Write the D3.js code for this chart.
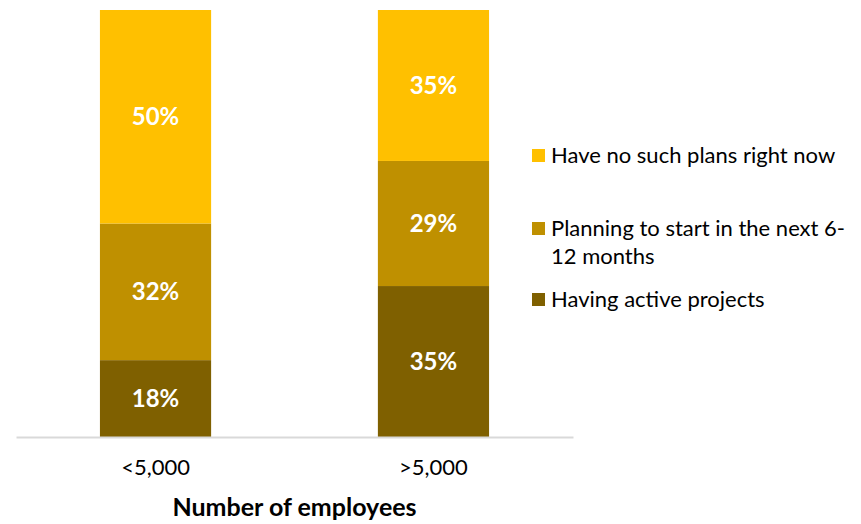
<!DOCTYPE html>
<html>
<head>
<meta charset="utf-8">
<script src="https://cdn.jsdelivr.net/npm/d3@7"></script>
<style>
  html, body { margin: 0; padding: 0; background: #fff; }
  svg { display: block; font-family: Lato, "Open Sans", sans-serif; }
</style>
</head>
<body>
<svg id="chart" width="861" height="524"></svg>
<script>
// Company size groups and the share of each response (percent)
const categories = ["<5,000", ">5,000"];
const seriesNames = ["Having active projects", "Planning to start in the next 6-12 months", "Have no such plans right now"];
const activeProjects = [18, 35];
const planningNext = [32, 29];
const noPlans = [50, 35];
const legendLines = [
  ["Have no such plans right now"],
  ["Planning to start in the next 6-", "12 months"],
  ["Having active projects"]
];
const colors = ["#7F6000", "#BF9000", "#FFC000"];
const axisTitle = "Number of employees";

const rows = categories.map((c, i) => ({
  category: c,
  [seriesNames[0]]: activeProjects[i],
  [seriesNames[1]]: planningNext[i],
  [seriesNames[2]]: noPlans[i]
}));

const svg = d3.select("#chart");
const plot = { left: 16, right: 573, top: 10, bottom: 437 };

const x = d3.scaleBand()
  .domain(categories)
  .range([plot.left, plot.right])
  .paddingInner(0.6)
  .paddingOuter(0.302);

const y = d3.scaleLinear().domain([0, 1]).range([plot.bottom, plot.top]);

// 100% stacked layout
const stack = d3.stack().keys(seriesNames).offset(d3.stackOffsetExpand);
const layers = stack(rows);

const g = svg.append("g");
layers.forEach((layer, li) => {
  const lg = g.append("g");
  lg.selectAll("rect")
    .data(layer)
    .join("rect")
    .attr("x", d => x(d.data.category))
    .attr("width", x.bandwidth())
    .attr("y", d => y(d[1]))
    .attr("height", d => y(d[0]) - y(d[1]))
    .attr("fill", colors[li]);
  lg.selectAll("text")
    .data(layer)
    .join("text")
    .attr("x", d => x(d.data.category) + x.bandwidth() / 2)
    .attr("y", d => (y(d[0]) + y(d[1])) / 2)
    .attr("dy", "0.36em")
    .attr("text-anchor", "middle")
    .attr("fill", "#fff")
    .attr("font-weight", "bold")
    .attr("font-size", 24)
    .text(d => d.data[layer.key] + "%");
});

// baseline axis
const xAxis = d3.axisBottom(x).tickSize(0).tickPadding(22);
const ax = svg.append("g").attr("transform", `translate(0,${plot.bottom})`).call(xAxis);
ax.select(".domain").attr("stroke", "#D9D9D9").attr("stroke-width", 2);
ax.selectAll("text").attr("font-size", 22).attr("fill", "#000").attr("font-family", "Lato, sans-serif");

svg.append("text")
  .attr("x", (plot.left + plot.right) / 2)
  .attr("y", 516)
  .attr("text-anchor", "middle")
  .attr("font-weight", "bold")
  .attr("font-size", 25)
  .attr("fill", "#000")
  .text(axisTitle);

// legend
const legendColors = [colors[2], colors[1], colors[0]];
const legendY = [155, 228, 299];
const legend = svg.append("g");
legendLines.forEach((lines, i) => {
  legend.append("rect")
    .attr("x", 532)
    .attr("y", legendY[i] - 6)
    .attr("width", 13)
    .attr("height", 13)
    .attr("fill", legendColors[i]);
  const t = legend.append("text")
    .attr("x", 551)
    .attr("y", legendY[i])
    .attr("font-size", 22)
    .attr("fill", "#000");
  lines.forEach((ln, j) => {
    t.append("tspan")
      .attr("x", 551)
      .attr("dy", j === 0 ? "0.36em" : 28)
      .text(ln);
  });
});
</script>
</body>
</html>
